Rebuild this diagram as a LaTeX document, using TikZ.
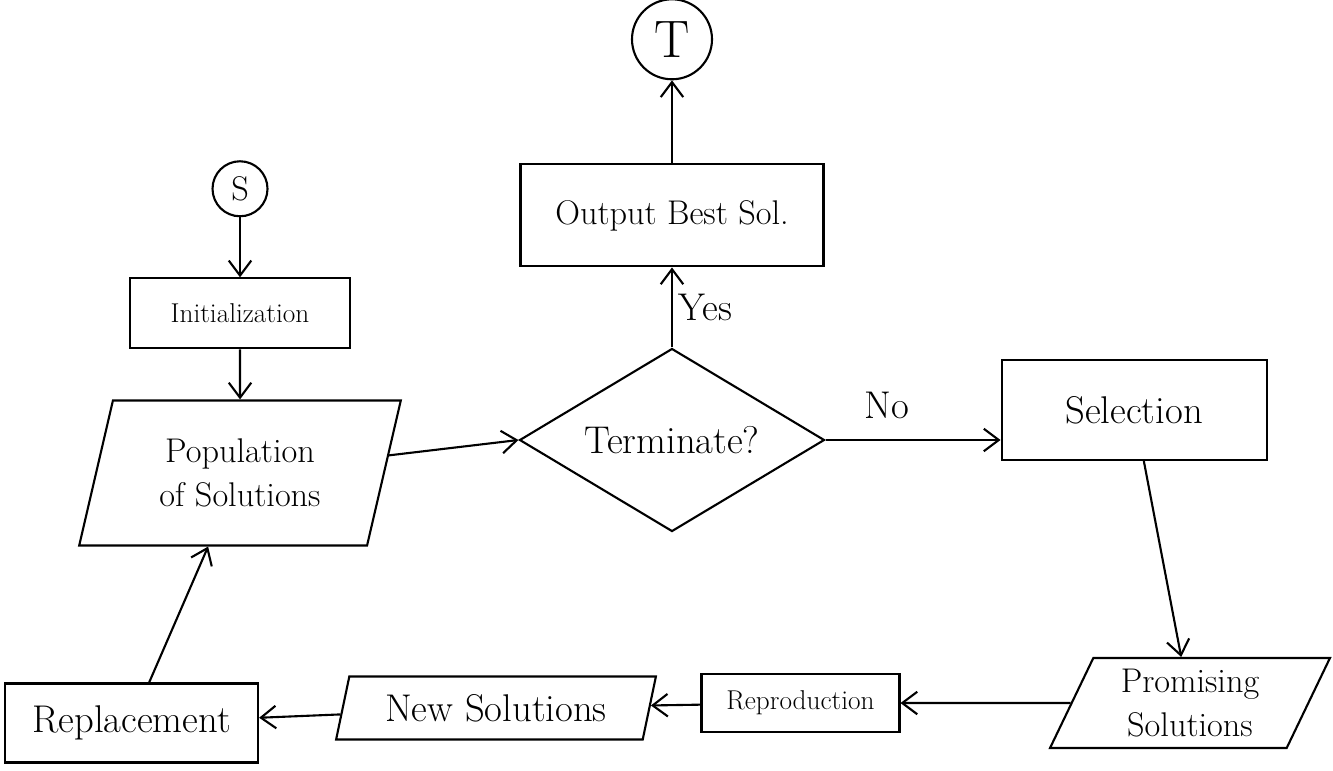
\documentclass[tikz,border=0pt]{standalone}
\usepackage{tikz}
\usetikzlibrary{shapes,arrows,positioning,calc,arrows.meta}
\tikzset{
    box/.style={draw, line width=1.2pt, rectangle, align=center},
    para/.style={draw, line width=1.2pt, trapezium, trapezium stretches=true, align=center},
    decision/.style={draw, line width=1.2pt, diamond, aspect=1.67, inner sep=0pt, align=center},
    ends/.style={draw, line width=1.2pt, circle, inner sep=1pt},
    flow/.style={line width=1.2pt, -{Straight Barb[length=3mm,width=4.5mm]}},
    huge/.style={font=\fontsize{30}{36}\selectfont},
    big/.style={font=\fontsize{22}{27}\selectfont},
    mid/.style={font=\fontsize{19.5}{25}\selectfont},
    small/.style={font=\fontsize{15.5}{19}\selectfont},
}
\begin{document}
\begin{tikzpicture}[node distance=2cm, auto]
    \useasboundingbox (0,0) rectangle (26.66,-15.4);
    \node [decision, big, minimum width=6.1cm, minimum height=3.66cm] (term) at (13.44,-8.8) {Terminate?};
    \node [box, mid, minimum width=6.06cm, minimum height=2.04cm, above=1.6cm of term] (out) {Output Best Sol.};
    \node [ends, huge, minimum size=1.6cm, above=1.66cm of out] (stop) {T};
    \node [box, big, minimum width=5.3cm, minimum height=2cm, right=3.5cm of term, yshift=0.6cm] (sel) {Selection};
    \node [para, mid, trapezium left angle=66, trapezium right angle=114, minimum width=5.6cm, minimum height=1.8cm, inner sep=1pt] (prom) at (23.8,-14.06) {Promising\\Solutions};
    \node [box, small, minimum width=3.96cm, minimum height=1.16cm, left=3.4cm of prom] (repro) {Reproduction};
    \node [para, big, trapezium left angle=72, trapezium right angle=108, minimum width=6.4cm, minimum height=1.26cm, inner sep=1pt, left=1cm of repro, yshift=-0.1cm] (newsol) {New Solutions};
    \node [box, big, minimum width=5.06cm, minimum height=1.58cm, left=1.65cm of newsol, yshift=-0.3cm] (repl) {Replacement};
    \node [para, mid, trapezium left angle=74, trapezium right angle=106, minimum width=6.44cm, minimum height=2.9cm] (pop) at (4.8,-9.46) {Population\\of Solutions};
    \node [box, small, minimum width=4.4cm, minimum height=1.4cm, above=1cm of pop] (init) {Initialization};
    \node [ends, mid, minimum size=1.1cm, above=1.2cm of init] (start) {S};

    \draw [flow] (start) -- (init);
    \draw [flow] (init) -- (pop);
    \draw [flow] (pop) -- (term.west);
    \draw [flow] (term) -- node [right, big] {Yes} (out);
    \draw [flow] (out) -- (stop);
    \draw [flow] (term) -- node [pos=0.35, above=8pt, big] {No} (sel.west |- term);
    \draw [flow] (sel) -- (prom);
    \draw [flow] (prom) -- (repro);
    \draw [flow] (repro) -- (newsol);
    \draw [flow] (newsol) -- (repl);
    \draw [flow] (repl) -- (pop);
\end{tikzpicture}
\end{document}
